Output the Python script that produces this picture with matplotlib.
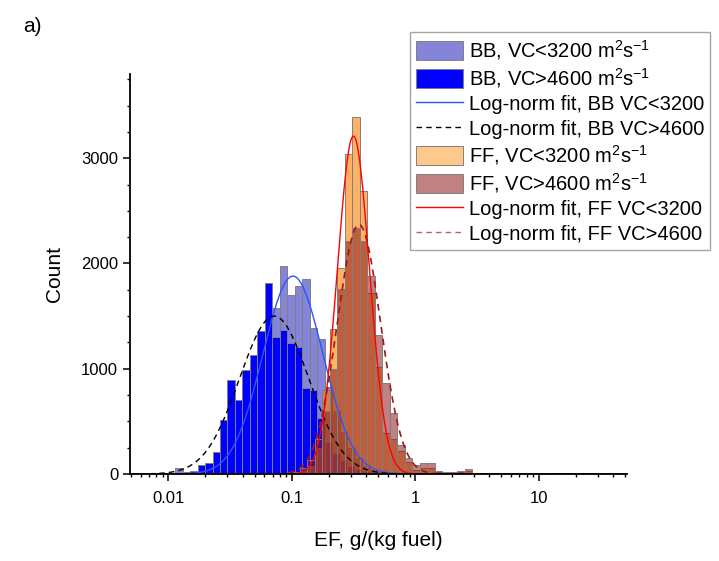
import numpy as np
import matplotlib
matplotlib.use("Agg")
import matplotlib.pyplot as plt
from matplotlib.ticker import LogLocator, MultipleLocator, NullFormatter
from matplotlib.patches import Patch
from matplotlib.lines import Line2D

plt.rcParams["font.family"] = ["Liberation Sans", "DejaVu Sans"]
plt.rcParams["mathtext.default"] = "regular"

# histogram bins (log10 of EF), same width for both groups
BIN_WIDTH_DEC = 0.0607
BB_FIRST_EDGE = -1.945
FF_FIRST_EDGE = -0.9935

# counts per bin
bb_low_vc = [54, 20, 20, 40, 50, 80, 150, 250, 350, 500, 650, 900, 1500, 1580,
             1979, 1700, 1786, 1850, 1390, 1286, 830, 600, 400, 250, 150, 80,
             40, 20, 10]
bb_high_vc = [0, 10, 30, 85, 100, 206, 513, 893, 703, 988, 1130, 1358, 1817,
              1305, 1368, 1248, 1210, 817, 798, 532, 300, 200, 130, 80, 50, 30,
              20, 10, 5]
ff_low_vc = [10, 30, 80, 250, 800, 1380, 1954, 3037, 3389, 2692, 1716, 1020,
             386, 329, 222, 117, 38, 54, 54, 15, 10, 8, 15, 25, 3]
ff_high_vc = [20, 54, 133, 335, 600, 1000, 1755, 2217, 2334, 2217, 1884, 1320,
              860, 576, 272, 149, 82, 101, 101, 31, 22, 16, 31, 45, 5]

# log-normal fits: (peak count, centre log10(EF), sigma in decades)
bb_low_fit = (1880, -0.99, 0.243)
bb_high_fit = (1500, -1.142, 0.28)
ff_low_fit = (3210, -0.50, 0.13)
ff_high_fit = (2370, -0.455, 0.175)
BB_FIT_RANGE = (0.0049, 52)
FF_FIT_RANGE = (0.0085, 43)

labels = [
    "BB, VC<3200 m$^2$s$^{-1}$",
    "BB, VC>4600 m$^2$s$^{-1}$",
    "Log-norm fit, BB VC<3200",
    "Log-norm fit, BB VC>4600",
    "FF, VC<3200 m$^2$s$^{-1}$",
    "FF, VC>4600 m$^2$s$^{-1}$",
    "Log-norm fit, FF VC<3200",
    "Log-norm fit, FF VC>4600",
]

C_BB_LOW = (0.2, 0.2, 0.75, 0.6)
C_BB_HIGH = (0.0, 0.0, 1.0, 1.0)
C_FF_LOW = (1.0, 0.5, 0.0, 0.6)
C_FF_HIGH = (0.55, 0.1, 0.1, 0.55)


def bin_edges(first, n):
    return 10 ** (first + BIN_WIDTH_DEC * np.arange(n + 1))


def draw_hist(ax, first, counts, color):
    e = bin_edges(first, len(counts))
    ax.bar(e[:-1], counts, width=np.diff(e), align="edge", color=color,
           edgecolor="#808080", linewidth=0.7)


def draw_fit(ax, fit, xr, **kw):
    peak, mu, sig = fit
    x = np.logspace(np.log10(xr[0]), np.log10(xr[1]), 600)
    y = peak * np.exp(-(np.log10(x) - mu) ** 2 / (2 * sig ** 2))
    ax.plot(x, y, **kw)


fig = plt.figure(figsize=(7.19, 5.61), dpi=100)
ax = fig.add_axes([130 / 719, 1 - 474 / 561, 497 / 719, 400 / 561])

draw_hist(ax, BB_FIRST_EDGE, bb_low_vc, C_BB_LOW)
draw_hist(ax, BB_FIRST_EDGE, bb_high_vc, C_BB_HIGH)
draw_hist(ax, FF_FIRST_EDGE, ff_low_vc, C_FF_LOW)
draw_hist(ax, FF_FIRST_EDGE, ff_high_vc, C_FF_HIGH)

draw_fit(ax, bb_low_fit, BB_FIT_RANGE, color="#2a55ff", lw=1.0)
draw_fit(ax, bb_high_fit, BB_FIT_RANGE, color="black", lw=1.0, ls=(0, (4, 3)))
draw_fit(ax, ff_low_fit, FF_FIT_RANGE, color="red", lw=1.0)
draw_fit(ax, ff_high_fit, FF_FIT_RANGE, color="#a01818", lw=1.2, ls=(0, (4, 3)))

ax.set_xscale("log")
ax.set_xlim(0.0049, 52)
ax.set_ylim(0, 3800)
ax.set_xticks([0.01, 0.1, 1, 10], labels=["0.01", "0.1", "1", "10"])
ax.xaxis.set_minor_locator(LogLocator(base=10, subs=np.arange(2, 10)))
ax.xaxis.set_minor_formatter(NullFormatter())
ax.set_yticks([0, 1000, 2000, 3000])
ax.yaxis.set_minor_locator(MultipleLocator(250))

for s in ["top", "right"]:
    ax.spines[s].set_visible(False)
for s in ["left", "bottom"]:
    ax.spines[s].set_linewidth(1.3)
ax.tick_params(which="major", direction="out", length=5, width=1.1, labelsize=12)
ax.tick_params(axis="x", which="major", pad=7)
ax.tick_params(which="minor", direction="out", length=2.5, width=1.0)

ax.set_xlabel("EF, g/(kg fuel)", fontsize=15)
ax.xaxis.set_label_coords(0.5, -0.1425)
ax.set_ylabel("Count", fontsize=15)
ax.yaxis.set_label_coords(-0.132, 0.5)

fig.text(23 / 719, 1 - 26 / 561, "a)", fontsize=15, va="center", ha="left")

handles = [
    Patch(facecolor=C_BB_LOW, edgecolor="#808080", lw=0.7),
    Patch(facecolor=C_BB_HIGH, edgecolor="#808080", lw=0.7),
    Line2D([], [], color="#2a55ff", lw=1.0),
    Line2D([], [], color="black", lw=1.0, ls=(0, (4, 3))),
    Patch(facecolor=(1.0, 0.65, 0.25, 0.6), edgecolor="#808080", lw=0.7),
    Patch(facecolor=C_FF_HIGH, edgecolor="#808080", lw=0.7),
    Line2D([], [], color="red", lw=1.0),
    Line2D([], [], color="#c06060", lw=1.0, ls=(0, (4, 3))),
]
leg = fig.legend(handles, labels, loc="upper right",
                 bbox_to_anchor=(710 / 719, 1 - 32 / 561), fontsize=14.5,
                 frameon=True, fancybox=False, edgecolor="#909090",
                 handlelength=2.3, handleheight=1.1, labelspacing=0.2,
                 borderpad=0.3, handletextpad=0.3, borderaxespad=0)
leg.get_frame().set_linewidth(1.0)

fig.savefig("out.png", dpi=100)
